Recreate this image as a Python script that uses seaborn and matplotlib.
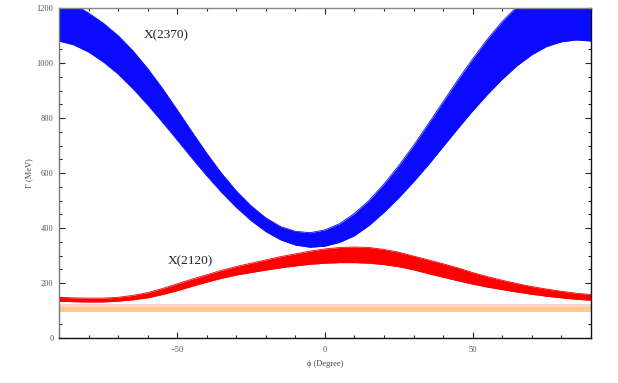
import matplotlib
matplotlib.use("Agg")
import matplotlib.pyplot as plt
from matplotlib.ticker import MultipleLocator
import seaborn as sns

# mixing angle grid (degrees)
phi = [-90, -85, -80, -75, -70, -65, -60, -55, -50, -45, -40, -35, -30, -25, -20,
       -15, -10, -5, 0, 5, 10, 15, 20, 25, 30, 35, 40, 45, 50, 55, 60, 65, 70,
       75, 80, 85, 90]

# X(2370) width band, upper and lower edges (MeV)
x2370_hi = [1240, 1215, 1182, 1145, 1100, 1045, 980, 908, 830, 750, 672, 599, 535,
            481, 437, 405, 388, 383, 393, 416, 453, 501, 560, 627, 700, 779, 859,
            939, 1015, 1087, 1151, 1205, 1249, 1281, 1298, 1303, 1293]
x2370_lo = [1080, 1066, 1040, 1004, 960, 907, 848, 785, 720, 654, 590, 530, 475,
            427, 387, 357, 338, 330, 334, 348, 372, 410, 457, 510, 568, 630, 696,
            762, 826, 886, 941, 990, 1030, 1060, 1077, 1084, 1080]

# X(2120) width band
x2120_hi = [148, 146, 145, 145, 148, 155, 165, 180, 197, 214, 230, 246, 260, 272,
            284, 296, 306, 316, 324, 329, 331, 329, 322, 312, 298, 284, 270, 255,
            238, 223, 210, 198, 187, 178, 170, 163, 158]
x2120_lo = [134, 132, 131, 131, 134, 139, 146, 158, 172, 188, 203, 217, 229, 238,
            247, 255, 262, 268, 272, 274, 274, 272, 267, 259, 248, 234, 221, 208,
            196, 185, 176, 167, 159, 152, 146, 141, 137]

# experimental width bands (constant)
exp_pink = (113, 124)
exp_orange = (95, 113)

sns.set_style("ticks")
plt.rcParams["font.family"] = ["Liberation Serif", "DejaVu Serif"]

fig = plt.figure(figsize=(6.18, 3.83), dpi=100)
ax = fig.add_axes([0.0955, 0.1175, 0.8605, 0.8615])

ax.fill_between(phi, [exp_pink[0]] * len(phi), [exp_pink[1]] * len(phi),
                color="#f8d4cb", lw=0)
ax.fill_between(phi, [exp_orange[0]] * len(phi), [exp_orange[1]] * len(phi),
                color="#ffc98c", lw=0)

ax.fill_between(phi, x2370_lo, x2370_hi, color="#0a0aff", lw=0)
ax.fill_between(phi, x2120_lo, x2120_hi, color="#ff0000", lw=0)
sns.lineplot(x=phi, y=x2370_lo, color="#0a0aff", lw=0.6, ax=ax)
sns.lineplot(x=phi, y=x2370_hi, color="#0a0aff", lw=0.6, ax=ax)
sns.lineplot(x=phi, y=x2120_lo, color="#ff0000", lw=0.6, ax=ax)
sns.lineplot(x=phi, y=x2120_hi, color="#ff0000", lw=0.6, ax=ax)

ax.text(-61.5, 1102, "X(2370)", fontsize=9.5, color="#222222", va="center")
ax.text(-53.2, 280, "X(2120)", fontsize=9.5, color="#222222", va="center")

ax.set_xlim(-90, 90)
ax.set_ylim(0, 1200)
ax.xaxis.set_major_locator(MultipleLocator(50))
ax.xaxis.set_minor_locator(MultipleLocator(10))
ax.yaxis.set_major_locator(MultipleLocator(200))
ax.yaxis.set_minor_locator(MultipleLocator(50))
ax.tick_params(which="both", direction="in", top=True, right=True,
               labelsize=6, labelcolor="#555555", width=0.8)
ax.tick_params(which="major", length=4)
ax.tick_params(which="minor", length=2.5)
ax.tick_params(axis="x", pad=6)
ax.tick_params(axis="y", pad=4)

for side in ["top", "right", "bottom", "left"]:
    ax.spines[side].set_visible(True)
    ax.spines[side].set_linewidth(1.0)
ax.spines["top"].set_color("#888888")
ax.spines["left"].set_color("#777777")
ax.spines["bottom"].set_color("#111111")
ax.spines["right"].set_color("#111111")

ax.set_xlabel("ϕ (Degree)", fontsize=6, color="#444444", labelpad=4)
ax.set_ylabel("Γ (MeV)", fontsize=6, color="#444444", labelpad=2)

fig.savefig("out.png", dpi=100)
